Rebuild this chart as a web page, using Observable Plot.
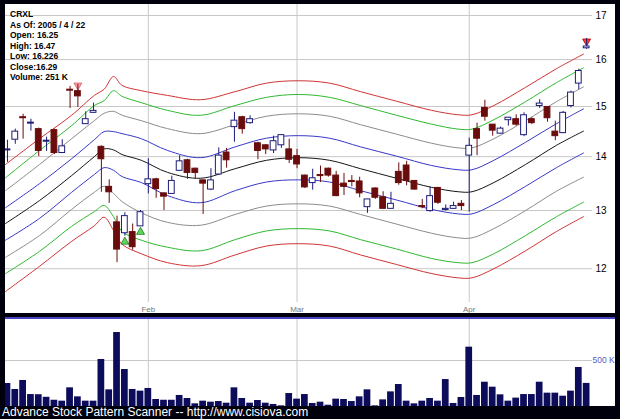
<!DOCTYPE html>
<html><head><meta charset="utf-8">
<script src="https://cdn.jsdelivr.net/npm/d3@7"></script>
<script src="https://cdn.jsdelivr.net/npm/@observablehq/plot@0.6"></script>
<style>
html,body{margin:0;padding:0;background:#00000c;}
#root{position:relative;width:620px;height:419px;background:#00000c;overflow:hidden;font-family:"Liberation Sans",Arial,sans-serif;}
#price{position:absolute;left:5px;top:4px;width:610px;height:309px;background:#fff;overflow:hidden;}
#sep{position:absolute;left:5px;top:317px;width:610px;height:2px;background:#4444c4;}
#vol{position:absolute;left:5px;top:319px;width:610px;height:87px;background:#fff;overflow:hidden;}
#info{position:absolute;left:10px;top:9px;font-size:8.5px;font-weight:bold;line-height:10.5px;color:#000;white-space:nowrap;}
#footer{position:absolute;left:2px;top:406px;font-size:12px;line-height:12px;color:#fff;white-space:nowrap;}
svg{display:block;}
</style></head>
<body><div id="root"><div id="price"></div><div id="sep"></div><div id="vol"></div><div id="info"></div><div id="footer"></div></div>
<script>
const infoLines = ["CRXL", "As Of: 2005 / 4 / 22", "Open: 16.25", "High: 16.47", "Low: 16.226", "Close:16.29", "Volume: 251 K"];
const footerText = "Advance Stock Pattern Scanner -- http://www.cisiova.com";
const priceTicks = [12, 13, 14, 15, 16, 17];
const monthIdx = [18, 37, 59];
const monthLabels = ["Feb", "Mar", "Apr"];
const volTicks = [500];

const open = [14.12,14.33,14.78,14.65,14.54,14.29,14.52,14.07,15.35,15.32, 14.64,14.87,14.19,13.43,12.79,12.60,12.62,12.72,13.48,13.57, 13.31,13.30,13.73,13.93,13.77,13.55,13.38,13.66,14.08,14.58, 14.78,14.66,14.26,14.22,14.12,14.22,14.14,14.01,13.64,13.50, 13.65,13.77,13.64,13.49,13.54,13.53,13.06,13.40,13.24,13.03, 13.71,13.83,13.54,13.08,12.99,13.41,13.01,13.03,13.12,14.02, 14.54,14.97,14.63,14.45,14.72,14.74,14.42,14.74,15.01,14.99, 14.49,14.46,15.01,15.48,16.25];
const high = [14.32,14.54,14.84,14.74,14.56,14.38,14.54,14.33,15.42,15.46, 14.89,15.07,14.21,13.56,12.90,12.96,12.76,13.00,13.96,13.59, 13.32,13.63,14.02,13.95,13.78,13.56,13.77,14.17,14.16,14.88, 14.80,14.81,14.28,14.23,14.40,14.43,14.34,14.14,13.65,13.76, 13.82,13.78,13.72,13.68,13.64,13.61,13.20,13.41,13.34,13.33, 13.88,13.91,13.54,13.20,13.43,13.42,13.10,13.15,13.18,14.36, 14.66,15.13,14.63,14.58,14.77,14.83,14.87,14.77,15.14,14.99, 14.70,14.90,15.32,15.79,16.47];
const low = [13.89,14.24,14.34,14.50,14.00,14.10,14.04,14.06,14.96,14.98, 14.64,14.86,13.33,13.13,12.10,12.55,12.31,12.72,13.30,13.22, 13.00,13.30,13.72,13.57,13.57,12.93,13.36,13.65,13.78,14.28, 14.44,14.64,13.94,14.04,14.06,14.16,13.87,13.77,13.40,13.37, 13.51,13.61,13.25,13.27,13.43,13.23,12.95,13.20,13.03,13.03, 13.46,13.45,13.37,13.03,12.97,13.11,12.99,13.02,13.00,12.97, 14.02,14.70,14.40,14.44,14.60,14.60,14.39,14.63,14.96,14.68, 14.31,14.45,14.97,15.35,16.226];
const close = [14.14,14.49,14.76,14.67,14.11,14.31,14.07,14.20,15.33,15.21, 14.74,14.91,13.95,13.33,12.32,12.90,12.36,12.97,13.57,13.39, 13.25,13.54,13.91,13.69,13.69,13.49,13.55,14.02,13.93,14.71, 14.54,14.74,14.11,14.14,14.30,14.42,13.94,13.85,13.42,13.59, 13.63,13.64,13.26,13.43,13.52,13.31,13.20,13.23,13.03,13.12, 13.50,13.54,13.38,13.06,13.26,13.14,13.03,13.08,13.08,14.21, 14.35,14.79,14.51,14.55,14.77,14.63,14.82,14.66,15.06,14.76, 14.40,14.87,15.29,15.75,16.29];
const volume = [250,185,283,130,128,100,68,58,203,105, 58,58,511,181,804,402,185,167,196,76, 68,68,120,87,29,58,47,54,36,203, 87,36,65,36,22,7,141,80,130,33, 47,14,80,76,54,105,181,7,72,159, 239,58,29,58,87,58,293,33,98,645, 120,264,210,127,58,91,130,130,264,145, 145,112,167,424,251];

// signal markers: trading-day index and kind
const markerIdx = [9, 15, 17, 74];
const markerKind = ["sellPink", "buy", "buy", "sellRed"];

// envelope lines sampled at trading-day positions
const lineIdx = [-0.25, 4.1, 8.2, 11.1, 12.35, 13.55, 14.65, 17.1, 20.45, 24.7, 29.1, 33.1, 37.15, 41.15, 45.1, 49.7, 54.2, 57.6, 59.35, 62.15, 66.2, 70.15, 73.6];
const redUpper   = [13.85,14.35,14.82,15.23,15.36,15.63,15.44,15.33,15.23,15.14,15.31,15.49,15.54,15.49,15.31,15.11,14.92,14.83,14.83,15.02,15.40,15.80,16.12];
const greenUpper = [13.60,14.12,14.61,15.02,15.12,15.33,15.21,15.08,14.92,14.82,15.02,15.19,15.25,15.19,15.02,14.82,14.64,14.54,14.54,14.73,15.10,15.50,15.82];
const grayUpper  = [13.36,13.85,14.35,14.71,14.86,14.90,14.82,14.71,14.55,14.45,14.63,14.80,14.85,14.80,14.63,14.44,14.26,14.17,14.17,14.35,14.71,15.10,15.41];
const blueUpper  = [13.05,13.49,13.96,14.33,14.49,14.49,14.45,14.35,14.12,13.98,14.19,14.36,14.41,14.36,14.19,14.01,13.83,13.75,13.75,13.93,14.28,14.65,14.95];
const midLine    = [12.77,13.18,13.64,14.00,14.15,14.13,14.04,13.93,13.70,13.59,13.77,13.93,13.98,13.93,13.77,13.59,13.42,13.34,13.34,13.51,13.85,14.22,14.50];
const blueLower  = [12.48,12.86,13.33,13.66,13.79,13.74,13.62,13.51,13.27,13.14,13.36,13.52,13.56,13.52,13.36,13.19,13.02,12.94,12.94,13.11,13.44,13.79,14.07];
const grayLower  = [12.19,12.56,13.02,13.33,13.44,13.31,13.16,12.96,12.79,12.74,12.93,13.08,13.12,13.08,12.93,12.76,12.60,12.52,12.52,12.68,13.00,13.35,13.61];
const greenLower = [11.92,12.29,12.72,12.98,13.09,12.89,12.63,12.48,12.36,12.30,12.49,12.64,12.68,12.64,12.49,12.33,12.17,12.10,12.10,12.25,12.56,12.89,13.15];
const redLower   = [11.63,12.04,12.46,12.73,12.88,12.65,12.41,12.25,12.10,12.05,12.23,12.38,12.42,12.38,12.23,12.07,11.92,11.85,11.85,12.00,12.30,12.63,12.89];

const FONT = "Liberation Sans, Arial, sans-serif";
const GRID = "#c8c8c8";
const UP = "#1c1c78", DN = "#6a0c0c";
const XDOM = [-0.25, 74.75];

const candles = open.map((o, i) => ({i, o, h: high[i], l: low[i], c: close[i], up: close[i] >= o}));
const markers = markerIdx.map((i, k) => ({i, kind: markerKind[k], h: high[i], l: low[i]}));

const triUp = {draw(ctx, size) { const r = Math.sqrt(size / Math.PI); const w = r * 1.25, h = r * 2.2; ctx.moveTo(0, -h / 2); ctx.lineTo(w, h / 2); ctx.lineTo(-w, h / 2); ctx.closePath(); }};
const triDown = {draw(ctx, size) { const r = Math.sqrt(size / Math.PI); const w = r * 1.25, h = r * 2.2; ctx.moveTo(-w, -h / 2); ctx.lineTo(w, -h / 2); ctx.lineTo(0, h / 2); ctx.closePath(); }};

const bands = [
  [redUpper, "#d03434"], [greenUpper, "#30b830"], [grayUpper, "#8c8c8c"], [blueUpper, "#3838c8"],
  [midLine, "#151515"],
  [blueLower, "#3838c8"], [grayLower, "#8c8c8c"], [greenLower, "#30b830"], [redLower, "#d03434"]
];

const pricePlot = Plot.plot({
  width: 610, height: 309,
  marginLeft: 0, marginRight: 23, marginTop: 0, marginBottom: 11,
  style: {background: "white", fontFamily: FONT, overflow: "hidden"},
  x: {domain: XDOM, axis: null, label: null},
  y: {type: "log", domain: [11.455, 17.259], axis: null, label: null},
  marks: [
    Plot.gridY(priceTicks, {stroke: GRID, strokeOpacity: 1}),
    Plot.gridX(monthIdx, {stroke: GRID, strokeOpacity: 1}),
    Plot.axisY(priceTicks, {anchor: "right", label: null, tickSize: 0, tickPadding: 3, fontSize: 10, fill: "#000", color: "#000", tickFormat: d => String(d)}),
    Plot.axisX(monthIdx, {anchor: "bottom", label: null, tickSize: 0, tickPadding: 4, fontSize: 8, fill: "#777", color: "#777", tickFormat: d => monthLabels[monthIdx.indexOf(d)]}),
    ...bands.map(([arr, col]) => Plot.lineY(arr, {x: lineIdx, y: arr, stroke: col, strokeWidth: 1, curve: "catmull-rom"})),
    Plot.dot(markers, {filter: d => d.kind === "buy", x: "i", y: "l", dy: 4.5, symbol: triUp, r: 3.2, fill: "#5fd75f", stroke: "#1d7a1d", strokeWidth: 0.8}),
    Plot.dot(markers, {filter: d => d.kind === "sellPink", x: "i", y: "h", dy: 2, symbol: triDown, r: 3.2, fill: "#ffa0a8", stroke: "#d06070", strokeWidth: 0.8}),
    Plot.dot(markers, {filter: d => d.kind === "sellRed", x: "i", y: "h", dy: 4, symbol: triDown, r: 3.2, fill: "#ff3a3a", stroke: "#b00000", strokeWidth: 0.8}),
    Plot.ruleX(candles, {filter: d => d.up, x: "i", y1: "l", y2: "h", stroke: UP, strokeWidth: 1}),
    Plot.ruleX(candles, {filter: d => !d.up, x: "i", y1: "l", y2: "h", stroke: DN, strokeWidth: 1}),
    Plot.rect(candles, {filter: d => d.up, x1: d => d.i - 0.37, x2: d => d.i + 0.37, y1: "o", y2: "c", fill: "white", stroke: UP, strokeWidth: 1}),
    Plot.rect(candles, {filter: d => !d.up, x1: d => d.i - 0.37, x2: d => d.i + 0.37, y1: "o", y2: "c", fill: DN, stroke: DN, strokeWidth: 1})
  ]
});
document.getElementById("price").appendChild(pricePlot);

const volPlot = Plot.plot({
  width: 610, height: 87,
  marginLeft: 0, marginRight: 23, marginTop: 0, marginBottom: 0,
  style: {background: "white", fontFamily: FONT, overflow: "hidden"},
  x: {domain: XDOM, axis: null, label: null},
  y: {domain: [0, 945.7], axis: null, label: null},
  marks: [
    Plot.gridY(volTicks, {stroke: GRID, strokeOpacity: 1}),
    Plot.gridX(monthIdx, {stroke: GRID, strokeOpacity: 1}),
    Plot.axisY(volTicks, {anchor: "right", label: null, tickSize: 0, tickPadding: 0, fontSize: 8.5, fill: "#5a5ac8", color: "#5a5ac8", tickFormat: d => d + " K"}),
    Plot.rect(volume, {x1: (d, i) => i - 0.43, x2: (d, i) => i + 0.43, y1: 0, y2: d => d, fill: "#0c0c5a"})
  ]
});
document.getElementById("vol").appendChild(volPlot);

const info = document.getElementById("info");
infoLines.forEach(t => { const div = document.createElement("div"); div.textContent = t; info.appendChild(div); });
document.getElementById("footer").textContent = footerText;
</script>
</body></html>
